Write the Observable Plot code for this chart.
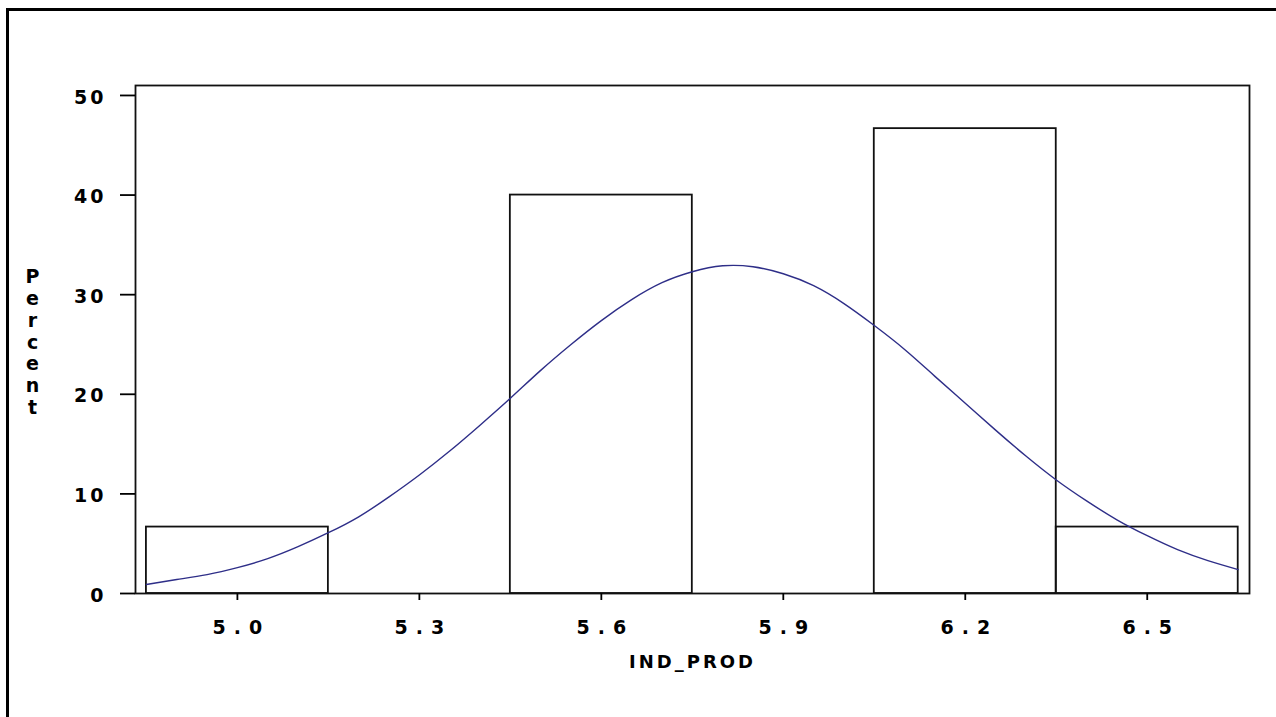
<!DOCTYPE html>
<html>
<head>
<meta charset="utf-8">
<script src="https://cdn.jsdelivr.net/npm/d3@7"></script>
<script src="https://cdn.jsdelivr.net/npm/@observablehq/plot@0.6"></script>
<style>
  html, body { margin: 0; padding: 0; background: #fff; overflow: hidden; }
  #wrap { position: relative; width: 1276px; height: 717px; }
  #border { position: absolute; left: 6px; top: 8px; width: 1300px; height: 800px;
            border-top: 3px solid #000; border-left: 3px solid #000; pointer-events: none; }
  .ytxt text { letter-spacing: 3px; }
  .xtxt text { letter-spacing: 8px; }
  .xlab text { letter-spacing: 3px; }
</style>
</head>
<body>
<div id="wrap"><div id="border"></div></div>
<script>
// Histogram bins (IND_PROD) and percent of observations
const binStart = [4.85, 5.15, 5.45, 5.75, 6.05, 6.35];
const binEnd   = [5.15, 5.45, 5.75, 6.05, 6.35, 6.65];
const percent  = [6.67, 0, 40, 0, 46.67, 6.67];

// Fitted normal curve
const curveX = [4.85, 4.90, 4.95, 5.00, 5.05, 5.10, 5.15, 5.20, 5.25, 5.30, 5.35, 5.40, 5.45, 5.50,
                5.55, 5.60, 5.65, 5.70, 5.75, 5.80, 5.85, 5.90, 5.95, 6.00, 6.05, 6.10, 6.15, 6.20,
                6.25, 6.30, 6.35, 6.40, 6.45, 6.50, 6.55, 6.60, 6.65];
const curveY = [0.9, 1.4, 1.9, 2.6, 3.5, 4.7, 6.1, 7.7, 9.7, 11.9, 14.3, 16.9, 19.6, 22.4,
                25.0, 27.4, 29.5, 31.2, 32.3, 32.9, 32.8, 32.1, 30.9, 29.1, 26.9, 24.5, 21.8, 19.1,
                16.4, 13.8, 11.4, 9.3, 7.4, 5.8, 4.4, 3.3, 2.4];

const xTicks = [5.0, 5.3, 5.6, 5.9, 6.2, 6.5];
const yTicks = [0, 10, 20, 30, 40, 50];
const xLabel = "IND_PROD";
const yLabel = "Percent";

const bins = binStart.map((s, i) => ({x1: s, x2: binEnd[i], y: percent[i]}));
const curve = curveX.map((x, i) => ({x, y: curveY[i]}));

const chart = Plot.plot({
  width: 1276,
  height: 717,
  marginLeft: 135,
  marginRight: 27,
  marginTop: 85,
  marginBottom: 124,
  style: {fontFamily: "'DejaVu Sans', sans-serif", fontSize: "19px", fontWeight: "bold",
          color: "#000", background: "#fff"},
  x: {domain: [4.832, 6.6686]},
  y: {domain: [0, 51]},
  marks: [
    Plot.frame({stroke: "#111", strokeWidth: 1.8}),
    Plot.rectY(bins.filter(d => d.y > 0), {x1: "x1", x2: "x2", y: "y", fill: "none", stroke: "#111", strokeWidth: 1.8}),
    Plot.line(curve, {x: "x", y: "y", stroke: "#2e2e88", strokeWidth: 1.4, curve: "natural"}),
    // ticks
    Plot.axisY({ticks: yTicks, tickSize: 15, tickFormat: () => "", label: null, strokeWidth: 1.8}),
    Plot.axisX({ticks: xTicks, tickSize: 7, tickFormat: () => "", label: null, strokeWidth: 1.8}),
    // tick labels
    Plot.axisY({ticks: yTicks, tickSize: 0, tickPadding: 29, dy: 2, label: null,
                fontWeight: "bold", fontSize: 19, className: "ytxt"}),
    Plot.axisX({ticks: xTicks, tickSize: 0, tickPadding: 27, dx: 4, tickFormat: d3.format(".1f"),
                label: null, fontWeight: "bold", fontSize: 19, className: "xtxt"}),
    Plot.text([xLabel], {frameAnchor: "bottom", dy: 69, dx: 0, lineAnchor: "middle",
                         fontWeight: "bold", fontSize: 18, className: "xlab"}),
    Plot.text([yLabel.split("").join("\n")], {frameAnchor: "left", dx: -103, dy: 2, lineAnchor: "middle",
                         textAnchor: "middle", lineHeight: 1.15, fontWeight: "bold", fontSize: 19})
  ]
});
document.getElementById("wrap").prepend(chart);
</script>
</body>
</html>
